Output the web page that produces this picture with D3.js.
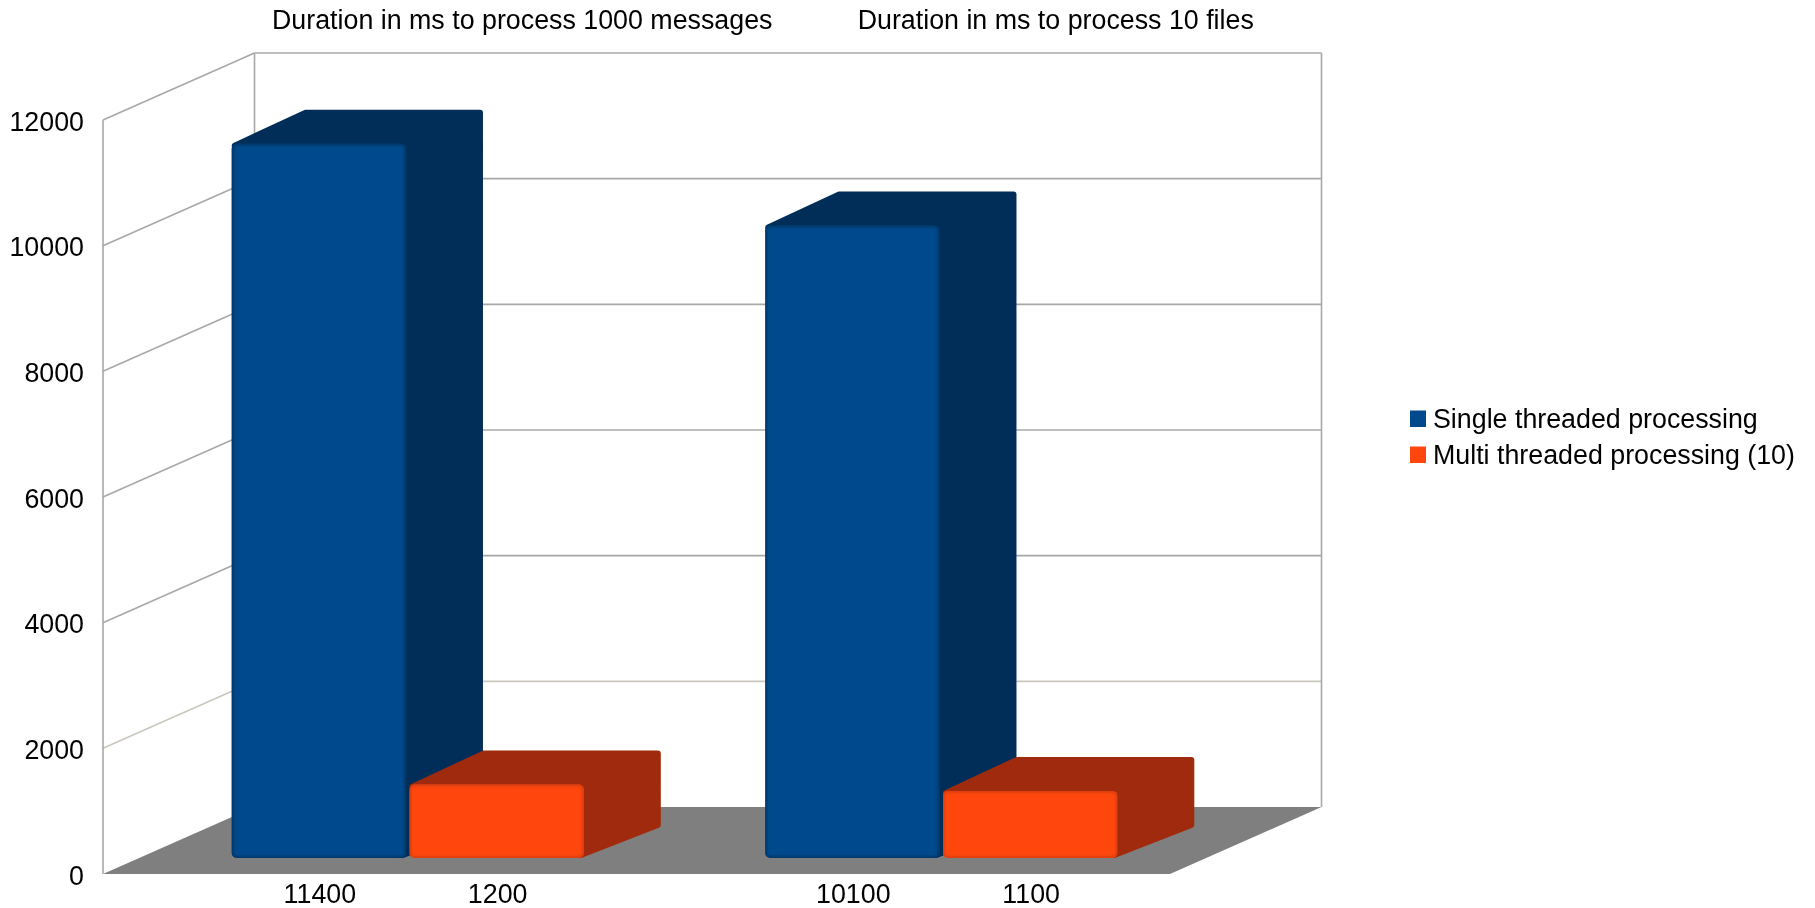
<!DOCTYPE html>
<html>
<head>
<meta charset="utf-8">
<script src="https://cdnjs.cloudflare.com/ajax/libs/d3/7.8.5/d3.min.js"></script>
<style>
html,body{margin:0;padding:0;background:#fff;overflow:hidden}
svg{display:block}
text{font-family:"Liberation Sans",Arial,sans-serif;fill:#050505}
</style>
</head>
<body>
<svg id="chart" width="1815" height="908"></svg>
<script>
const categories = ["Duration in ms to process 1000 messages", "Duration in ms to process 10 files"];
const seriesNames = ["Single threaded processing", "Multi threaded processing (10)"];
const singleThreaded = [11400, 10100];
const multiThreaded = [1200, 1100];
const yTicks = [0, 2000, 4000, 6000, 8000, 10000, 12000];
const seriesColors = ["#004a8c", "#ff470f"];
const seriesDark = ["#002e59", "#a02c09"];
const seriesEdge = ["#00305f", "#d23a0c"];

const svg = d3.select("#chart");
const defs = svg.append("defs");
defs.append("filter").attr("id", "soft").append("feGaussianBlur").attr("stdDeviation", 0.6);
defs.append("filter").attr("id", "softText").attr("x", "-5%").attr("y", "-5%").attr("width", "110%").attr("height", "110%")
  .append("feGaussianBlur").attr("stdDeviation", 0.35);
defs.append("filter").attr("id", "glow").attr("x", "-10%").attr("y", "-10%").attr("width", "120%").attr("height", "120%")
  .append("feGaussianBlur").attr("stdDeviation", 1.8);

const frontLeft = 103, frontRight = 1170, y0 = 874, yTop = 120;
const floorDx = 151.5, floorDy = -67;
const barDx = 74, barDy = -31, barShiftX = 38, barShiftY = -16, topAdjust = 2;
const fontSize = 26.8;

const y = d3.scaleLinear().domain([0, 12000]).range([y0, yTop]);
const x = d3.scaleBand().domain(categories).range([frontLeft, frontRight]);
const xSeries = d3.scaleBand().domain(seriesNames).range([0, x.bandwidth()]).paddingInner(0.02).paddingOuter(0.51);

const root = svg.append("g").attr("filter", "url(#soft)");

// floor
root.append("polygon").attr("fill", "#7f7f7f").attr("points", [
  [frontLeft, y(0)], [frontRight, y(0)], [frontRight + floorDx, y(0) + floorDy], [frontLeft + floorDx, y(0) + floorDy]
].join(" "));

// walls and gridlines
const gridColor = v => v === 2000 ? "#c9c7bd" : "#a8a8a8";
const grid = root.append("g").attr("fill", "none");
grid.selectAll(".side").data(yTicks.slice(1)).join("line").attr("class", "side")
  .attr("x1", frontLeft).attr("y1", d => y(d))
  .attr("x2", frontLeft + floorDx).attr("y2", d => y(d) + floorDy)
  .attr("stroke", gridColor).attr("stroke-width", 1.6);
grid.selectAll(".back").data(yTicks.slice(1)).join("line").attr("class", "back")
  .attr("x1", frontLeft + floorDx).attr("y1", d => y(d) + floorDy)
  .attr("x2", frontRight + floorDx).attr("y2", d => y(d) + floorDy)
  .attr("stroke", gridColor).attr("stroke-width", 1.6);
[[frontLeft, 0], [frontLeft + floorDx, floorDy], [frontRight + floorDx, floorDy]].forEach(([px, dy]) => {
  grid.append("line").attr("x1", px).attr("x2", px)
    .attr("y1", y(0) + dy).attr("y2", y(12000) + dy)
    .attr("stroke", "#a8a8a8").attr("stroke-width", 1.6);
});

// bars
const rows = [];
categories.forEach((c, i) => {
  rows.push({c, s: seriesNames[0], v: singleThreaded[i], k: 0});
  rows.push({c, s: seriesNames[1], v: multiThreaded[i], k: 1});
});
rows.forEach((d, i) => {
  const left = x(d.c) + barShiftX + xSeries(d.s);
  const right = left + xSeries.bandwidth();
  const top = y(d.v) + barShiftY + topAdjust;
  const bottom = y(0) + barShiftY;
  const g = root.append("g");
  g.append("polygon")
    .attr("points", [[left + 3, top + 2], [left + barDx, top + barDy], [right + barDx, top + barDy],
                     [right + barDx, bottom + barDy - 2], [right - 3, bottom - 3], [right - 3, top + 3]].join(" "))
    .attr("fill", seriesDark[d.k]).attr("stroke", seriesDark[d.k])
    .attr("stroke-width", 6).attr("stroke-linejoin", "round");
  const clipId = "clip" + i;
  defs.append("clipPath").attr("id", clipId).append("rect")
    .attr("x", left).attr("y", top).attr("width", right - left).attr("height", bottom - top).attr("rx", 5);
  g.append("rect").attr("x", left).attr("y", top).attr("width", right - left).attr("height", bottom - top)
    .attr("rx", 5).attr("fill", seriesColors[d.k]);
  g.append("g").attr("clip-path", `url(#${clipId})`).append("rect")
    .attr("x", left).attr("y", top).attr("width", right - left).attr("height", bottom - top)
    .attr("rx", 5).attr("fill", "none").attr("stroke", seriesEdge[d.k]).attr("stroke-width", 3)
    .attr("filter", "url(#glow)");
});

const textLayer = svg.append("g").attr("filter", "url(#softText)");

// y axis labels
const yAxis = d3.axisLeft(y).tickValues(yTicks).tickSize(0).tickPadding(0).tickFormat(d3.format("d"));
const yG = textLayer.append("g").attr("transform", "translate(84,1)").call(yAxis);
yG.select(".domain").remove();
yG.selectAll("text").attr("font-size", fontSize).style("font-family", '"Liberation Sans"').attr("dy", "0.34em");

// value labels below the bars, placed by the series and category scales
textLayer.append("g").selectAll("text").data(rows).join("text")
  .attr("x", d => x(d.c) + barShiftX + xSeries(d.s) + xSeries.bandwidth() / 2 + 1)
  .attr("y", 903).attr("text-anchor", "middle").attr("font-size", fontSize)
  .text(d => d.v);

// category titles above the back wall
textLayer.append("g").selectAll("text").data(categories).join("text")
  .attr("x", d => x(d) + x.bandwidth() / 2 + floorDx + 1)
  .attr("y", 29).attr("text-anchor", "middle").attr("font-size", fontSize)
  .text(d => d);

// legend
const legendY = d3.scalePoint().domain(seriesNames).range([419, 455]);
const legend = textLayer.append("g").selectAll("g").data(seriesNames).join("g")
  .attr("transform", d => `translate(1410,${legendY(d)})`);
legend.append("rect").attr("x", 0).attr("y", -8.5).attr("width", 16).attr("height", 16.5)
  .attr("fill", (d, i) => seriesColors[i]);
legend.append("text").attr("x", 23).attr("y", 0).attr("dy", "0.35em").attr("font-size", fontSize).text(d => d);
</script>
</body>
</html>
